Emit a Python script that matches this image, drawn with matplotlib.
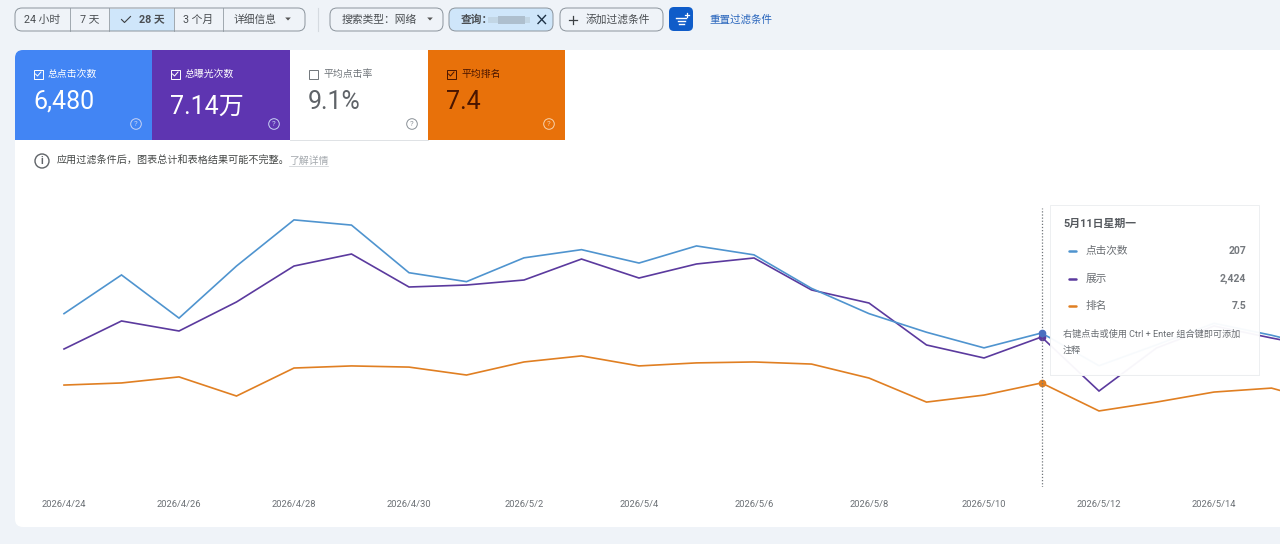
import numpy as np
import matplotlib
matplotlib.use("Agg")
import matplotlib.pyplot as plt
from matplotlib.patches import FancyBboxPatch, Rectangle, Circle, Polygon, PathPatch
from matplotlib.path import Path

FONT = ['Roboto', 'Noto Sans CJK SC', 'DejaVu Sans']
plt.rcParams['font.family'] = FONT

days = list(range(23))
date_labels = ['2026/4/24', '2026/4/26', '2026/4/28', '2026/4/30', '2026/5/2', '2026/5/4',
               '2026/5/6', '2026/5/8', '2026/5/10', '2026/5/12', '2026/5/14']
clicks = [233, 285, 227, 297, 359, 352, 288, 276, 308, 319, 301, 324, 312, 267, 233, 208, 187, 207, 163, 191, 220, 204, 185]
impressions = [2230, 2683, 2521, 2990, 3571, 3765, 3232, 3264, 3345, 3684, 3377, 3604, 3701, 3184, 2973, 2295, 2085, 2424, 1551, 2246, 2602, 2408, 2230]
position = [7.59, 7.50, 7.24, 8.06, 6.86, 6.77, 6.82, 7.16, 6.60, 6.34, 6.77, 6.64, 6.60, 6.69, 7.29, 8.32, 8.02, 7.50, 8.70, 8.32, 7.89, 7.72, 8.40]
hover_index = 17

BG = '#eff3f8'
BLUE = '#4f94cf'
PURPLE = '#5b3a9e'
ORANGE = '#e07f22'

W, H = 1280, 544
fig = plt.figure(figsize=(W / 100, H / 100), dpi=100, facecolor=BG)


def overlay(z):
    a = fig.add_axes([0, 0, 1, 1], zorder=z)
    a.set_xlim(0, W)
    a.set_ylim(H, 0)
    a.axis('off')
    a.patch.set_alpha(0)
    return a


bg = overlay(0)


def rbox(a, x0, y0, x1, y1, r=6, fc='none', ec='none', lw=1, alpha=None, z=2):
    p = FancyBboxPatch((x0 + r, y0 + r), x1 - x0 - 2 * r, y1 - y0 - 2 * r,
                       boxstyle=f'round,pad={r},rounding_size={r}', fc=fc, ec=ec, lw=lw,
                       alpha=alpha, zorder=z, mutation_aspect=1)
    a.add_patch(p)
    return p


def txt(a, x, y, s, size=7.75, color='#4a4e52', ha='left', weight='normal', z=6):
    return a.text(x, y, s, fontsize=size, color=color, ha=ha, va='center', fontweight=weight,
                  family=FONT, zorder=z)


# card
rbox(bg, 15, 50, 1300, 527, r=8, fc='white')

# toolbar
EDGE = '#8b949c'
rbox(bg, 15, 8, 305, 31, r=7, fc='none', ec=EDGE, lw=0.7, z=3)
bg.add_patch(Rectangle((109.5, 8.5), 64, 22, fc='#cfe6fa', ec='none', zorder=2))
for xd in (70, 109, 174, 223):
    bg.plot([xd, xd], [8, 31], color=EDGE, lw=0.55, zorder=3)
txt(bg, 42.5, 19.5, '24 小时', ha='center')
txt(bg, 90, 19.5, '7 天', ha='center')
bg.plot([121.5, 124.5, 130.5], [19.5, 22.5, 16.5], color='#3c4043', lw=0.8, zorder=6)
txt(bg, 152, 19.5, '28 天', ha='center', weight='bold')
txt(bg, 198.5, 19.5, '3 个月', ha='center')
txt(bg, 234, 19.5, '详细信息')


def caret(a, x, y):
    a.add_patch(Polygon([[x - 2.8, y - 1.5], [x + 2.8, y - 1.5], [x, y + 1.5]], fc='#555', ec='none', zorder=6))


caret(bg, 288, 19)
bg.plot([318, 318], [8, 31], color='#d5dae0', lw=0.8)
rbox(bg, 330, 8, 443, 31, r=7, ec=EDGE, lw=0.7, z=3)
txt(bg, 342, 19.5, '搜索类型：网络')
caret(bg, 430, 19)
rbox(bg, 449, 8, 553, 31, r=7, fc='#cfe6fa', ec=EDGE, lw=0.7, z=3)
txt(bg, 461, 19.5, '查询：', weight='bold')
bg.add_patch(Rectangle((488, 16.5), 42, 6, fc='#c2d6e5', ec='none', zorder=6))
bg.add_patch(Rectangle((498, 15.5), 27, 8, fc='#aebfce', ec='none', zorder=7))
bg.plot([538, 545.5], [15.5, 23.5], color='#1f3347', lw=1.0, zorder=6)
bg.plot([538, 545.5], [23.5, 15.5], color='#1f3347', lw=1.0, zorder=6)
rbox(bg, 560, 8, 663, 31, r=7, ec=EDGE, lw=0.7, z=3)
bg.plot([568.5, 576.5], [19.5, 19.5], color='#3c4043', lw=0.9, zorder=6)
bg.plot([572.5, 572.5], [15.5, 23.5], color='#3c4043', lw=0.9, zorder=6)
txt(bg, 586, 19.5, '添加过滤条件')
rbox(bg, 669, 7, 693, 31, r=5, fc='#0f5cc9', z=3)
for x0, x1, y in ((676, 686, 17.5), (677.5, 685, 20.5), (679, 683.5, 23.5)):
    bg.plot([x0, x1], [y, y], color='white', lw=1.0, zorder=6)
bg.plot([687, 687], [12.5, 16.5], color='white', lw=0.9, zorder=6)
bg.plot([685, 689], [14.5, 14.5], color='white', lw=0.9, zorder=6)
txt(bg, 709, 19.5, '重置过滤条件', color='#2a66bd', size=7.6)

# tiles
tiles = [
    (15, 152, '#4285f4', '总点击次数', '6,480', 'white', 'white', True, 100),
    (152, 290, '#5e35b1', '总曝光次数', '7.14万', 'white', 'white', True, 105),
    (290, 428, 'white', '平均点击率', '9.1%', '#70757a', '#5f6368', False, 100),
    (428, 565, '#e8710a', '平均排名', '7.4', '#4a1500', '#4a1500', True, 100),
]
for x0, x1, fc, label, value, lc, vc, checked, vy in tiles:
    bg.add_patch(Rectangle((x0, 50), x1 - x0, 89.5, fc=fc, ec='none', zorder=3))
    bg.add_patch(Rectangle((x0 + 18.5, 69.5), 9, 9, fc='none', ec=lc, lw=0.7, zorder=5))
    if checked:
        bg.plot([x0 + 20.5, x0 + 22.5, x0 + 26], [74, 76, 72], color=lc, lw=0.7, zorder=6)
    txt(bg, x0 + 33, 73.5, label, size=7.1, color=lc)
    txt(bg, x0 + 18, vy + 2, value, size=18, color=vc)
    qc = '#8a9197' if fc == 'white' else ('#f7d3ad' if fc == '#e8710a' else '#c8d4f4')
    bg.add_patch(Circle((x1 - 16, 124), 5.3, fc='none', ec=qc, lw=0.7, zorder=6))
    txt(bg, x1 - 16, 124, '?', size=5.6, color=qc, ha='center')
# rounded top-left of the first tile: paint corner
bg.add_patch(PathPatch(Path([(15, 50), (23, 50), (15, 50), (15, 58), (15, 50)],
                            [Path.MOVETO, Path.LINETO, Path.CURVE3, Path.CURVE3, Path.CLOSEPOLY]),
                       fc=BG, ec='none', zorder=4))
bg.plot([290, 428], [139.5, 139.5], color='#dfe2e5', lw=0.7, zorder=4)

# info line
bg.add_patch(Circle((42, 161), 7, fc='none', ec='#5f6368', lw=1, zorder=6))
txt(bg, 42, 161, 'i', size=7.5, color='#5f6368', ha='center', weight='bold')
txt(bg, 57, 160.5, '应用过滤条件后，图表总计和表格结果可能不完整。', size=7.25, color='#444746')
txt(bg, 289, 160.5, '了解详情', size=7.1, color='#a3a8ad')
bg.plot([289, 328], [166, 166], color='#c6cacf', lw=0.5, zorder=6)

# chart axes: pixels 0..1280 horizontally, 187..487 vertically
PX_DAY = 57.5
ax_pos = [0, (H - 487) / H, 1, 300 / H]
xlim = (-64 / PX_DAY, (W - 64) / PX_DAY)


def chart_axes(z, ylim):
    a = fig.add_axes(ax_pos, zorder=z)
    a.patch.set_alpha(0)
    a.set_xlim(*xlim)
    a.set_ylim(*ylim)
    a.set_yticks([])
    for s in a.spines.values():
        s.set_visible(False)
    a.set_xticks([])
    return a


ax_pos_line = chart_axes(1, (11.96, -0.9))
ax_imp = chart_axes(2, (0, 4848))
ax_clk = chart_axes(3, (0, 403.2))

ax_clk.plot(days, clicks, color=BLUE, lw=1.2, solid_joinstyle='miter')
ax_imp.plot(days, impressions, color=PURPLE, lw=1.2, solid_joinstyle='miter')
ax_pos_line.plot(days, position, color=ORANGE, lw=1.2, solid_joinstyle='miter')

ax_clk.set_xticks(days[:21:2])
ax_clk.set_xticklabels(date_labels, fontsize=6.75, color='#6b7075', family=FONT)
ax_clk.tick_params(axis='x', length=0, pad=9.5)

ax_clk.axvline(hover_index, ymin=0, ymax=(487 - 208) / 300, color='#70757a', lw=0.9, ls=(0, (1, 1.5)))
ax_clk.plot(hover_index, clicks[hover_index], 'o', ms=4.5, color='#4a6fc0', zorder=5)
ax_imp.plot(hover_index, impressions[hover_index], 'o', ms=4.5, color=PURPLE, zorder=5)
ax_pos_line.plot(hover_index, position[hover_index], 'o', ms=4.5, color=ORANGE, zorder=5)

# tooltip
top = overlay(6)
top.add_patch(Rectangle((1050, 205), 209, 169.5, fc='white', ec='#eceef0', lw=0.7, alpha=0.96, zorder=2))
top.plot([1050.5, 1259], [375, 375], color='#e6e8ea', lw=1.2, zorder=1)
TC = '#6a6e73'
txt(top, 1063, 224, '5月11日星期一', size=7.8, color='#55595e', weight='bold')
rows = [('点击次数', f'{clicks[hover_index]}', BLUE, 251),
        ('展示', f'{impressions[hover_index]:,}', PURPLE, 279),
        ('排名', f'{position[hover_index]}', ORANGE, 306)]
for name, val, col, y in rows:
    top.plot([1068.5, 1076], [y, y], color=col, lw=1.8, zorder=5, solid_capstyle='round')
    txt(top, 1086, y, name, size=7.7, color=TC)
    txt(top, 1246, y, val, size=7.5, color='#75797e', ha='right', weight='bold')
txt(top, 1063, 334, '右键点击或使用 Ctrl + Enter 组合键即可添加', size=6.6, color=TC)
txt(top, 1063, 350, '注释', size=6.6, color=TC)

fig.savefig('out.png', dpi=100, facecolor=BG)
